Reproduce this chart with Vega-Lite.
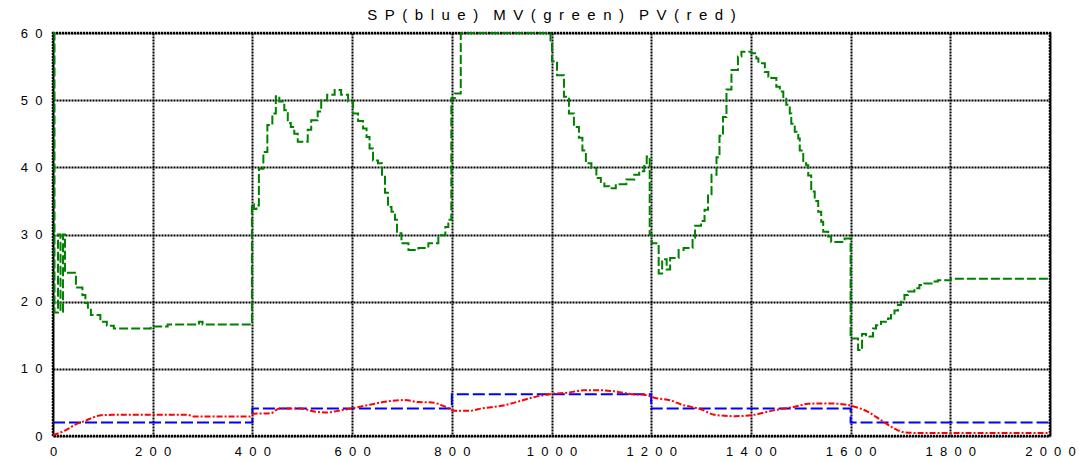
{
  "$schema": "https://vega.github.io/schema/vega-lite/v6.json",
  "width": 997,
  "height": 403,
  "autosize": {"type": "none"},
  "padding": {"left": 53, "top": 33, "right": 29, "bottom": 26},
  "title": {
    "text": "S\u2002P\u2002(\u2002b\u2002l\u2002u\u2002e\u2002)\u2002\u2002M\u2002V\u2002(\u2002g\u2002r\u2002e\u2002e\u2002n\u2002)\u2002\u2002P\u2002V\u2002(\u2002r\u2002e\u2002d\u2002)",
    "font": "Liberation Sans",
    "fontSize": 15,
    "fontWeight": "normal",
    "color": "#000000",
    "anchor": "middle",
    "offset": 4
  },
  "config": {
    "view": {"stroke": "#000000", "strokeWidth": 2.5, "strokeDash": [2, 1]},
    "background": "#ffffff"
  },
  "datasets": {
    "mv": [
      {"x": 0, "y": 60}, {"x": 3, "y": 18.4}, {"x": 10, "y": 30}, {"x": 15, "y": 18.5}, {"x": 20, "y": 30},
      {"x": 24, "y": 24.3}, {"x": 46, "y": 22.1}, {"x": 59, "y": 21}, {"x": 65, "y": 19.8}, {"x": 70, "y": 18.8},
      {"x": 76, "y": 18}, {"x": 95, "y": 17}, {"x": 108, "y": 16.4}, {"x": 122, "y": 16}, {"x": 196, "y": 16.3},
      {"x": 230, "y": 16.6}, {"x": 293, "y": 17}, {"x": 300, "y": 16.6}, {"x": 399, "y": 34.5}, {"x": 403, "y": 33.8},
      {"x": 408, "y": 34.3}, {"x": 413, "y": 39.8}, {"x": 422, "y": 42.3}, {"x": 430, "y": 46.3}, {"x": 440, "y": 48},
      {"x": 447, "y": 50.6}, {"x": 454, "y": 49.8}, {"x": 464, "y": 48.5}, {"x": 471, "y": 46.6}, {"x": 477, "y": 46},
      {"x": 484, "y": 45}, {"x": 491, "y": 43.8}, {"x": 511, "y": 45.6}, {"x": 518, "y": 47}, {"x": 531, "y": 48.3},
      {"x": 538, "y": 50}, {"x": 550, "y": 50.8}, {"x": 565, "y": 51.5}, {"x": 578, "y": 50.8}, {"x": 592, "y": 49.8},
      {"x": 602, "y": 48}, {"x": 612, "y": 46.9}, {"x": 622, "y": 45.8}, {"x": 629, "y": 44.5}, {"x": 635, "y": 42.8},
      {"x": 642, "y": 41}, {"x": 652, "y": 40.6}, {"x": 660, "y": 38.6}, {"x": 666, "y": 36.2}, {"x": 672, "y": 34.1},
      {"x": 679, "y": 33.4}, {"x": 686, "y": 32.2}, {"x": 690, "y": 30.2}, {"x": 699, "y": 28.7}, {"x": 713, "y": 27.7},
      {"x": 733, "y": 28}, {"x": 753, "y": 28.7}, {"x": 773, "y": 29.9}, {"x": 787, "y": 31.1}, {"x": 793, "y": 32.2},
      {"x": 799, "y": 50.3}, {"x": 806, "y": 51}, {"x": 818, "y": 60}, {"x": 990, "y": 60}, {"x": 998, "y": 58.9},
      {"x": 1001, "y": 55.8}, {"x": 1011, "y": 53.7}, {"x": 1025, "y": 50.5}, {"x": 1035, "y": 48}, {"x": 1045, "y": 46},
      {"x": 1055, "y": 44.4}, {"x": 1062, "y": 42.5}, {"x": 1069, "y": 40.6}, {"x": 1080, "y": 39.9}, {"x": 1090, "y": 38.4},
      {"x": 1099, "y": 37.8}, {"x": 1106, "y": 37.2}, {"x": 1116, "y": 36.9}, {"x": 1129, "y": 37.5}, {"x": 1150, "y": 38.2},
      {"x": 1166, "y": 38.9}, {"x": 1176, "y": 39.4}, {"x": 1186, "y": 40.2}, {"x": 1191, "y": 41.6}, {"x": 1197, "y": 30},
      {"x": 1201, "y": 28.7}, {"x": 1215, "y": 24.2}, {"x": 1222, "y": 26.3}, {"x": 1231, "y": 24.8}, {"x": 1238, "y": 26.5},
      {"x": 1255, "y": 27.7}, {"x": 1265, "y": 28}, {"x": 1283, "y": 29.5}, {"x": 1288, "y": 31.3}, {"x": 1300, "y": 32},
      {"x": 1307, "y": 33.7}, {"x": 1314, "y": 36}, {"x": 1321, "y": 38.9}, {"x": 1331, "y": 41.5}, {"x": 1337, "y": 44.7},
      {"x": 1344, "y": 47.5}, {"x": 1351, "y": 51.6}, {"x": 1361, "y": 54.5}, {"x": 1374, "y": 56.5}, {"x": 1381, "y": 57.2},
      {"x": 1401, "y": 57}, {"x": 1411, "y": 56.2}, {"x": 1415, "y": 55.5}, {"x": 1428, "y": 54.2}, {"x": 1435, "y": 53.5},
      {"x": 1441, "y": 53.3}, {"x": 1451, "y": 52}, {"x": 1458, "y": 51.3}, {"x": 1465, "y": 50.2}, {"x": 1471, "y": 49.3},
      {"x": 1478, "y": 48}, {"x": 1481, "y": 46.5}, {"x": 1488, "y": 45.3}, {"x": 1495, "y": 44.3}, {"x": 1498, "y": 42.5},
      {"x": 1505, "y": 40.6}, {"x": 1511, "y": 40.3}, {"x": 1515, "y": 38.8}, {"x": 1521, "y": 36.4}, {"x": 1528, "y": 35},
      {"x": 1535, "y": 33.4}, {"x": 1541, "y": 31.9}, {"x": 1545, "y": 30.4}, {"x": 1555, "y": 29.7}, {"x": 1561, "y": 28.9},
      {"x": 1588, "y": 29.4}, {"x": 1600, "y": 14.5}, {"x": 1615, "y": 12.8}, {"x": 1623, "y": 15.2}, {"x": 1631, "y": 15},
      {"x": 1638, "y": 14.8}, {"x": 1645, "y": 16}, {"x": 1651, "y": 16.5}, {"x": 1661, "y": 17}, {"x": 1675, "y": 17.5},
      {"x": 1681, "y": 18}, {"x": 1688, "y": 18.7}, {"x": 1695, "y": 19.5}, {"x": 1701, "y": 20}, {"x": 1708, "y": 21},
      {"x": 1715, "y": 21.5}, {"x": 1728, "y": 22}, {"x": 1738, "y": 22.5}, {"x": 1748, "y": 22.7}, {"x": 1765, "y": 23},
      {"x": 1775, "y": 23.2}, {"x": 1801, "y": 23.4}, {"x": 2000, "y": 23.4}
    ],
    "sp": [
      {"x": 0, "y": 2}, {"x": 400, "y": 4.1}, {"x": 800, "y": 6.2}, {"x": 1200, "y": 4.1}, {"x": 1600, "y": 2}, {"x": 2000, "y": 2}
    ],
    "pv": [
      {"x": 0, "y": 0.1}, {"x": 25, "y": 0.85}, {"x": 46, "y": 1.74}, {"x": 66, "y": 2.3}, {"x": 80, "y": 2.75},
      {"x": 97, "y": 3.1}, {"x": 120, "y": 3.15}, {"x": 270, "y": 3.15}, {"x": 282, "y": 2.9}, {"x": 395, "y": 2.9},
      {"x": 402, "y": 3.3}, {"x": 437, "y": 3.4}, {"x": 454, "y": 4.1}, {"x": 497, "y": 4.1}, {"x": 524, "y": 3.65},
      {"x": 551, "y": 3.5}, {"x": 578, "y": 3.85}, {"x": 598, "y": 4.1}, {"x": 632, "y": 4.6}, {"x": 666, "y": 5.1},
      {"x": 706, "y": 5.35}, {"x": 733, "y": 5.05}, {"x": 760, "y": 5}, {"x": 787, "y": 4.35}, {"x": 807, "y": 3.75},
      {"x": 834, "y": 3.75}, {"x": 860, "y": 4.1}, {"x": 907, "y": 4.6}, {"x": 937, "y": 5.2}, {"x": 971, "y": 5.9},
      {"x": 1001, "y": 6.26}, {"x": 1032, "y": 6.45}, {"x": 1065, "y": 6.8}, {"x": 1099, "y": 6.8}, {"x": 1126, "y": 6.65},
      {"x": 1166, "y": 6.2}, {"x": 1186, "y": 6.15}, {"x": 1206, "y": 5.7}, {"x": 1240, "y": 5.27}, {"x": 1260, "y": 4.7},
      {"x": 1301, "y": 3.95}, {"x": 1327, "y": 3.15}, {"x": 1368, "y": 2.95}, {"x": 1401, "y": 3.1}, {"x": 1448, "y": 3.85},
      {"x": 1488, "y": 4.35}, {"x": 1515, "y": 4.8}, {"x": 1555, "y": 4.85}, {"x": 1588, "y": 4.7}, {"x": 1608, "y": 4.35},
      {"x": 1635, "y": 3.6}, {"x": 1661, "y": 2.35}, {"x": 1688, "y": 1.1}, {"x": 1708, "y": 0.55}, {"x": 1735, "y": 0.45},
      {"x": 2000, "y": 0.45}
    ]
  },
  "encoding": {
    "x": {
      "field": "x",
      "type": "quantitative",
      "scale": {"domain": [0, 2000], "nice": false, "zero": false},
      "axis": {
        "title": null,
        "values": [0, 200, 400, 600, 800, 1000, 1200, 1400, 1600, 1800, 2000],
        "format": "d",
        "labelExpr": "join(split(datum.label, ''), '\u2007') + '\u2007'",
        "grid": true,
        "gridColor": "#000000",
        "gridWidth": 2,
        "gridDash": [2, 1],
        "gridOpacity": 1,
        "domain": false,
        "ticks": false,
        "labelPadding": 9,
        "labelFont": "Liberation Sans",
        "labelFontSize": 13,
        "labelColor": "#000000",
        "labelFlush": false,
        "labelOverlap": false,
        "labelBound": false
      }
    },
    "y": {
      "field": "y",
      "type": "quantitative",
      "scale": {"domain": [0, 60], "nice": false},
      "axis": {
        "title": null,
        "values": [0, 10, 20, 30, 40, 50, 60],
        "format": "d",
        "labelExpr": "join(split(datum.label, ''), '\u2007') + '\u2007'",
        "grid": true,
        "gridColor": "#000000",
        "gridWidth": 2,
        "gridDash": [2, 1],
        "gridOpacity": 1,
        "domain": false,
        "ticks": false,
        "labelPadding": 11,
        "labelFont": "Liberation Sans",
        "labelFontSize": 13,
        "labelColor": "#000000",
        "labelFlush": false,
        "labelOverlap": false,
        "labelBound": false
      }
    }
  },
  "layer": [
    {
      "data": {"name": "mv"},
      "mark": {"type": "line", "interpolate": "step-after", "color": "#008000", "strokeWidth": 2, "strokeDash": [9, 3]}
    },
    {
      "data": {"name": "sp"},
      "mark": {"type": "line", "interpolate": "step-after", "color": "#0000ff", "strokeWidth": 2, "strokeDash": [12, 4]}
    },
    {
      "data": {"name": "pv"},
      "mark": {"type": "line", "interpolate": "monotone", "color": "#ff0000", "strokeWidth": 2, "strokeDash": [6, 2, 2, 2]}
    }
  ]
}
